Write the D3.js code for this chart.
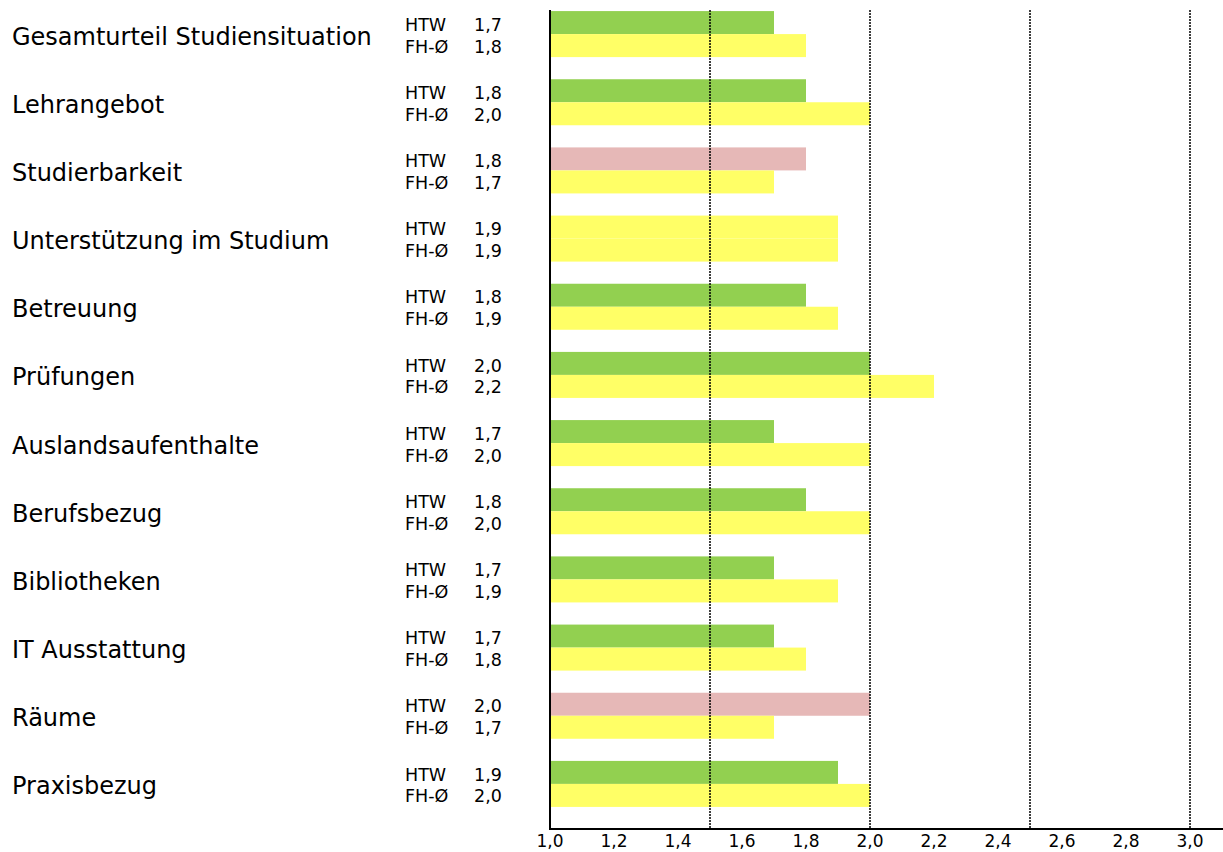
<!DOCTYPE html>
<html><head><meta charset="utf-8">
<script src="https://cdn.jsdelivr.net/npm/d3@7"></script>
<style>
html,body{margin:0;padding:0;background:#fff;}
svg{display:block;font-family:"DejaVu Sans",Verdana,sans-serif;}
</style></head>
<body><svg id="c" width="1223" height="852"></svg>
<script>
const categories = ["Gesamturteil Studiensituation","Lehrangebot","Studierbarkeit","Unterstützung im Studium","Betreuung","Prüfungen","Auslandsaufenthalte","Berufsbezug","Bibliotheken","IT Ausstattung","Räume","Praxisbezug"];
const htwValues = [1.7,1.8,1.8,1.9,1.8,2.0,1.7,1.8,1.7,1.7,2.0,1.9];
const fhValues  = [1.8,2.0,1.7,1.9,1.9,2.2,2.0,2.0,1.9,1.8,1.7,2.0];
const seriesNames = ["HTW","FH-Ø"];
const tickValues = [1.0,1.2,1.4,1.6,1.8,2.0,2.2,2.4,2.6,2.8,3.0];
const gridValues = [1.5,2.0,2.5,3.0];

const colGreen = "#92d050", colYellow = "#ffff66", colPink = "#e6b8b7";
const svg = d3.select("#c");
const x = d3.scaleLinear().domain([1,3]).range([550,1190]);
const y = d3.scaleBand().domain(categories).range([0,818]).paddingInner(0.325).paddingOuter(0.1625);
const fmt = v => d3.format(".1f")(v).replace(".", ",");

const data = categories.map((c,i)=>({c, htw:htwValues[i], fh:fhValues[i]}));
const htwColor = d => d.htw < d.fh ? colGreen : (d.htw > d.fh ? colPink : colYellow);

const bh = y.bandwidth()/2;
const g = svg.append("g");
g.selectAll("rect.htw").data(data).join("rect")
  .attr("x", x(1)).attr("y", d=>y(d.c))
  .attr("width", d=>x(d.htw)-x(1)).attr("height", bh)
  .attr("fill", htwColor);
g.selectAll("rect.fh").data(data).join("rect")
  .attr("x", x(1)).attr("y", d=>y(d.c)+bh)
  .attr("width", d=>x(d.fh)-x(1)).attr("height", bh)
  .attr("fill", colYellow);

// gridlines
svg.selectAll("line.grid").data(gridValues).join("line")
  .attr("x1", d=>Math.round(x(d))).attr("x2", d=>Math.round(x(d)))
  .attr("y1", 10).attr("y2", 829)
  .attr("stroke", "#000").attr("stroke-width", 1.5).attr("stroke-dasharray", "2,1");

// axes lines
svg.append("line").attr("x1",550).attr("x2",550).attr("y1",10).attr("y2",830)
  .attr("stroke","#000").attr("stroke-width",2);
svg.append("line").attr("x1",549).attr("x2",1223).attr("y1",829).attr("y2",829)
  .attr("stroke","#000").attr("stroke-width",2);

// tick labels
svg.selectAll("text.tick").data(tickValues).join("text")
  .attr("x", d=>x(d)).attr("y", 847).attr("text-anchor","middle")
  .attr("font-size", 17).attr("fill","#000").text(fmt);

// category labels
svg.selectAll("text.cat").data(data).join("text")
  .attr("x", 12).attr("y", d=>y(d.c)+bh+10.5)
  .attr("font-size", 24).attr("fill","#000").text(d=>d.c);

// series labels + values
const lab = svg.selectAll("g.lab").data(data).join("g");
lab.append("text").attr("x",405).attr("y",d=>y(d.c)+bh-3.3)
  .attr("font-size",17.5).text(seriesNames[0]);
lab.append("text").attr("x",405).attr("y",d=>y(d.c)+bh+18.5)
  .attr("font-size",17.5).text(seriesNames[1]);
lab.append("text").attr("x",474).attr("y",d=>y(d.c)+bh-3.3)
  .attr("font-size",17.5).text(d=>fmt(d.htw));
lab.append("text").attr("x",474).attr("y",d=>y(d.c)+bh+18.5)
  .attr("font-size",17.5).text(d=>fmt(d.fh));
</script></body></html>
